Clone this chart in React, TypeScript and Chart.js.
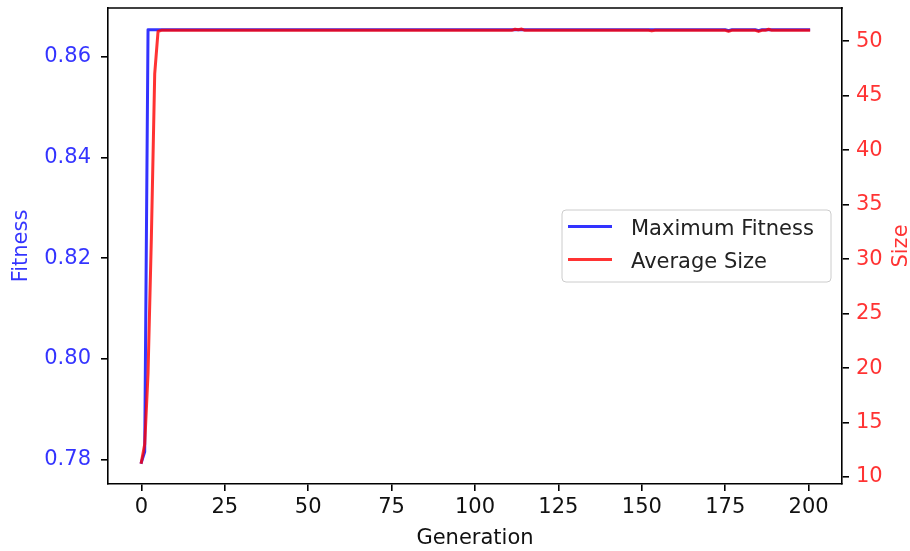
import React, { useEffect, useRef } from "react";
import { Chart, registerables } from "chart.js";

Chart.register(...registerables);

const FONT = "'DejaVu Sans', 'Liberation Sans', sans-serif";

// Tick labels
const generationTicks = [0, 25, 50, 75, 100, 125, 150, 175, 200];
const fitnessTicks = [0.78, 0.8, 0.82, 0.84, 0.86];
const sizeTicks = [10, 15, 20, 25, 30, 35, 40, 45, 50];
const legendLabels = ["Maximum Fitness", "Average Size"];

// Maximum fitness per generation (0..200)
const maxFitness = [
  0.7794, 0.7815, 0.8654, 0.8654, 0.8654, 0.8654, 0.8654, 0.8654, 0.8654, 0.8654,
  0.8654, 0.8654, 0.8654, 0.8654, 0.8654, 0.8654, 0.8654, 0.8654, 0.8654, 0.8654,
  0.8654, 0.8654, 0.8654, 0.8654, 0.8654, 0.8654, 0.8654, 0.8654, 0.8654, 0.8654,
  0.8654, 0.8654, 0.8654, 0.8654, 0.8654, 0.8654, 0.8654, 0.8654, 0.8654, 0.8654,
  0.8654, 0.8654, 0.8654, 0.8654, 0.8654, 0.8654, 0.8654, 0.8654, 0.8654, 0.8654,
  0.8654, 0.8654, 0.8654, 0.8654, 0.8654, 0.8654, 0.8654, 0.8654, 0.8654, 0.8654,
  0.8654, 0.8654, 0.8654, 0.8654, 0.8654, 0.8654, 0.8654, 0.8654, 0.8654, 0.8654,
  0.8654, 0.8654, 0.8654, 0.8654, 0.8654, 0.8654, 0.8654, 0.8654, 0.8654, 0.8654,
  0.8654, 0.8654, 0.8654, 0.8654, 0.8654, 0.8654, 0.8654, 0.8654, 0.8654, 0.8654,
  0.8654, 0.8654, 0.8654, 0.8654, 0.8654, 0.8654, 0.8654, 0.8654, 0.8654, 0.8654,
  0.8654, 0.8654, 0.8654, 0.8654, 0.8654, 0.8654, 0.8654, 0.8654, 0.8654, 0.8654,
  0.8654, 0.8654, 0.8654, 0.8654, 0.8654, 0.8654, 0.8654, 0.8654, 0.8654, 0.8654,
  0.8654, 0.8654, 0.8654, 0.8654, 0.8654, 0.8654, 0.8654, 0.8654, 0.8654, 0.8654,
  0.8654, 0.8654, 0.8654, 0.8654, 0.8654, 0.8654, 0.8654, 0.8654, 0.8654, 0.8654,
  0.8654, 0.8654, 0.8654, 0.8654, 0.8654, 0.8654, 0.8654, 0.8654, 0.8654, 0.8654,
  0.8654, 0.8654, 0.8654, 0.8654, 0.8654, 0.8654, 0.8654, 0.8654, 0.8654, 0.8654,
  0.8654, 0.8654, 0.8654, 0.8654, 0.8654, 0.8654, 0.8654, 0.8654, 0.8654, 0.8654,
  0.8654, 0.8654, 0.8654, 0.8654, 0.8654, 0.8654, 0.8652, 0.8654, 0.8654, 0.8654,
  0.8654, 0.8654, 0.8654, 0.8654, 0.8654, 0.8652, 0.8654, 0.8654, 0.8654, 0.8654,
  0.8654, 0.8654, 0.8654, 0.8654, 0.8654, 0.8654, 0.8654, 0.8654, 0.8654, 0.8654,
  0.8654,
];

// Average size per generation (0..200)
const averageSize = [
  11.35, 13.0, 19.5, 32.0, 47.0, 50.9, 51.0, 51.0, 51.0, 51.0,
  51.0, 51.0, 51.0, 51.0, 51.0, 51.0, 51.0, 51.0, 51.0, 51.0,
  51.0, 51.0, 51.0, 51.0, 51.0, 51.0, 51.0, 51.0, 51.0, 51.0,
  51.0, 51.0, 51.0, 51.0, 51.0, 51.0, 51.0, 51.0, 51.0, 51.0,
  51.0, 51.0, 51.0, 51.0, 51.0, 51.0, 51.0, 51.0, 51.0, 51.0,
  51.0, 51.0, 51.0, 51.0, 51.0, 51.0, 51.0, 51.0, 51.0, 51.0,
  51.0, 51.0, 51.0, 51.0, 51.0, 51.0, 51.0, 51.0, 51.0, 51.0,
  51.0, 51.0, 51.0, 51.0, 51.0, 51.0, 51.0, 51.0, 51.0, 51.0,
  51.0, 51.0, 51.0, 51.0, 51.0, 51.0, 51.0, 51.0, 51.0, 51.0,
  51.0, 51.0, 51.0, 51.0, 51.0, 51.0, 51.0, 51.0, 51.0, 51.0,
  51.0, 51.0, 51.0, 51.0, 51.0, 51.0, 51.0, 51.0, 51.0, 51.0,
  51.0, 51.0, 51.1, 51.05, 51.12, 51.0, 51.0, 51.0, 51.0, 51.0,
  51.0, 51.0, 51.0, 51.0, 51.0, 51.0, 51.0, 51.0, 51.0, 51.0,
  51.0, 51.0, 51.0, 51.0, 51.0, 51.0, 51.0, 51.0, 51.0, 51.0,
  51.0, 51.0, 51.0, 51.0, 51.0, 51.0, 51.0, 51.0, 51.0, 51.0,
  51.0, 51.0, 51.0, 50.95, 51.0, 51.0, 51.0, 51.0, 51.0, 51.0,
  51.0, 51.0, 51.0, 51.0, 51.0, 51.0, 51.0, 51.0, 51.0, 51.0,
  51.0, 51.0, 51.0, 51.0, 51.0, 51.0, 50.92, 51.0, 51.0, 51.0,
  51.0, 51.0, 51.0, 51.0, 51.0, 50.9, 51.0, 51.0, 51.1, 51.0,
  51.0, 51.0, 51.0, 51.0, 51.0, 51.0, 51.0, 51.0, 51.0, 51.0,
  51.0,
];

const BLUE = "rgba(0,0,255,0.8)";
const RED = "rgba(255,0,0,0.8)";
const BLACK = "#000000";

export default function App() {
  const ref = useRef<HTMLCanvasElement | null>(null);

  useEffect(() => {
    const canvas = ref.current;
    if (!canvas) return;

    const decor = {
      id: "decor",
      afterDraw(chart: any) {
        const ctx = chart.ctx as CanvasRenderingContext2D;
        const area = chart.chartArea;
        ctx.save();
        // top spine
        ctx.strokeStyle = BLACK;
        ctx.lineWidth = 1.6;
        ctx.beginPath();
        ctx.moveTo(area.left - 0.8, area.top);
        ctx.lineTo(area.right + 0.8, area.top);
        ctx.stroke();

        // right axis title (reads bottom to top)
        ctx.fillStyle = RED;
        ctx.font = `21px ${FONT}`;
        ctx.textAlign = "center";
        ctx.textBaseline = "middle";
        ctx.translate(902, (area.top + area.bottom) / 2);
        ctx.rotate(-Math.PI / 2);
        ctx.fillText("Size", 0, 0);
        ctx.restore();

        // legend
        ctx.save();
        const bx = 562, by = 210, bw = 269, bh = 72, r = 4;
        ctx.beginPath();
        ctx.moveTo(bx + r, by);
        ctx.lineTo(bx + bw - r, by);
        ctx.quadraticCurveTo(bx + bw, by, bx + bw, by + r);
        ctx.lineTo(bx + bw, by + bh - r);
        ctx.quadraticCurveTo(bx + bw, by + bh, bx + bw - r, by + bh);
        ctx.lineTo(bx + r, by + bh);
        ctx.quadraticCurveTo(bx, by + bh, bx, by + bh - r);
        ctx.lineTo(bx, by + r);
        ctx.quadraticCurveTo(bx, by, bx + r, by);
        ctx.closePath();
        ctx.fillStyle = "rgba(255,255,255,0.8)";
        ctx.fill();
        ctx.strokeStyle = "#cccccc";
        ctx.lineWidth = 1;
        ctx.stroke();

        const rows = [
          { label: legendLabels[0], color: BLUE, y: 226.5 },
          { label: legendLabels[1], color: RED, y: 259.5 },
        ];
        ctx.font = `21px ${FONT}`;
        ctx.textAlign = "left";
        ctx.textBaseline = "alphabetic";
        for (const row of rows) {
          ctx.strokeStyle = row.color;
          ctx.lineWidth = 3;
          ctx.lineCap = "butt";
          ctx.beginPath();
          ctx.moveTo(568, row.y);
          ctx.lineTo(612, row.y);
          ctx.stroke();
          ctx.fillStyle = "#222222";
          ctx.fillText(row.label, 631, row.y + 8);
        }
        ctx.restore();
      },
    };

    const tickFont = { family: FONT, size: 21 };
    const noPad = (s: any) => {
      s.paddingTop = 0;
      s.paddingBottom = 0;
      s.paddingLeft = 0;
      s.paddingRight = 0;
    };

    const chart = new Chart(canvas, {
      type: "line",
      data: {
        datasets: [
          {
            label: legendLabels[1],
            data: averageSize.map((v, i) => ({ x: i, y: v })),
            yAxisID: "y1",
            borderColor: RED,
            backgroundColor: RED,
            borderWidth: 3,
            pointRadius: 0,
            tension: 0,
            borderJoinStyle: "round",
            borderCapStyle: "square",
            order: 0,
          },
          {
            label: legendLabels[0],
            data: maxFitness.map((v, i) => ({ x: i, y: v })),
            yAxisID: "y",
            borderColor: BLUE,
            backgroundColor: BLUE,
            borderWidth: 3,
            pointRadius: 0,
            tension: 0,
            borderJoinStyle: "round",
            borderCapStyle: "square",
            order: 1,
          },
        ],
      },
      options: {
        responsive: false,
        animation: false,
        devicePixelRatio: 1,
        layout: { padding: { top: 8, left: 0, right: 0, bottom: 0 } },
        plugins: { legend: { display: false }, tooltip: { enabled: false } },
        scales: {
          x: {
            type: "linear",
            position: "bottom",
            min: -10,
            max: 210,
            afterBuildTicks: (s: any) => {
              s.ticks = generationTicks.map((v) => ({ value: v }));
            },
            afterFit: (s: any) => {
              s.height = 67;
              noPad(s);
            },
            grid: { drawOnChartArea: false, drawTicks: true, tickLength: 7, color: BLACK, lineWidth: 1.6 },
            border: { display: true, color: BLACK, width: 1.6 },
            ticks: {
              color: "#111111",
              font: tickFont,
              padding: 4,
              maxRotation: 0,
              autoSkip: false,
              callback: (v: any) => String(v),
            },
            title: {
              display: true,
              text: "Generation",
              color: "#111111",
              font: tickFont,
              padding: { top: 0, bottom: 0 },
            },
          },
          y: {
            type: "linear",
            position: "left",
            min: 0.7751,
            max: 0.8697,
            afterBuildTicks: (s: any) => {
              s.ticks = fitnessTicks.map((v) => ({ value: v }));
            },
            afterFit: (s: any) => {
              s.width = 108;
              noPad(s);
            },
            grid: { drawOnChartArea: false, drawTicks: true, tickLength: 7, color: BLACK, lineWidth: 1.6 },
            border: { display: true, color: BLACK, width: 1.6 },
            ticks: {
              color: BLUE,
              font: tickFont,
              padding: 10,
              callback: (v: any) => Number(v).toFixed(2),
            },
            title: {
              display: true,
              text: "Fitness",
              color: BLUE,
              font: tickFont,
              padding: { top: 9, bottom: 0 },
            },
          },
          y1: {
            type: "linear",
            position: "right",
            min: 9.36,
            max: 53.05,
            afterBuildTicks: (s: any) => {
              s.ticks = sizeTicks.map((v) => ({ value: v }));
            },
            afterFit: (s: any) => {
              s.width = 68;
              noPad(s);
            },
            grid: { drawOnChartArea: false, drawTicks: true, tickLength: 7, color: BLACK, lineWidth: 1.6 },
            border: { display: true, color: BLACK, width: 1.6 },
            ticks: {
              color: RED,
              font: tickFont,
              padding: 7,
              callback: (v: any) => String(v),
            },
            title: { display: false },
          },
        },
      },
      plugins: [decor],
    } as any);

    return () => chart.destroy();
  }, []);

  return (
    <div style={{ position: "fixed", left: 0, top: 0, width: 910, height: 551, background: "#ffffff" }}>
      <canvas ref={ref} width={910} height={551} style={{ display: "block" }} />
    </div>
  );
}
